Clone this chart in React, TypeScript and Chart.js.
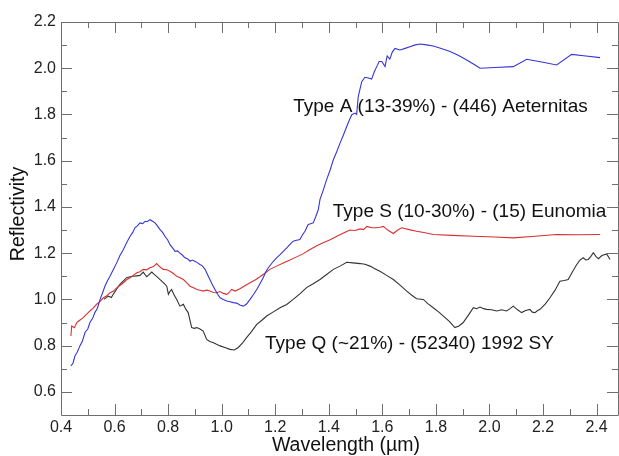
import React, { useEffect, useRef } from "react";
import { Chart, registerables } from "chart.js";

Chart.register(...registerables);

const X_TICKS = [0.4, 0.6, 0.8, 1.0, 1.2, 1.4, 1.6, 1.8, 2.0, 2.2, 2.4];
const Y_TICKS = [0.6, 0.8, 1.0, 1.2, 1.4, 1.6, 1.8, 2.0, 2.2];
const X_MINOR = [0.5, 0.7, 0.9, 1.1, 1.3, 1.5, 1.7, 1.9, 2.1, 2.3];
const Y_MINOR = [0.7, 0.9, 1.1, 1.3, 1.5, 1.7, 1.9, 2.1];

const TYPE_A_X = [0.437, 0.445, 0.452, 0.46, 0.471, 0.48, 0.49, 0.5, 0.508, 0.518, 0.527, 0.536, 0.546, 0.555, 0.564, 0.573, 0.583, 0.595, 0.608, 0.62, 0.633, 0.645, 0.658, 0.668, 0.676, 0.685, 0.695, 0.705, 0.714, 0.722, 0.732, 0.742, 0.751, 0.76, 0.77, 0.78, 0.788, 0.798, 0.807, 0.816, 0.826, 0.835, 0.844, 0.853, 0.863, 0.872, 0.882, 0.89, 0.9, 0.91, 0.919, 0.928, 0.938, 0.947, 0.956, 0.965, 0.975, 0.985, 0.994, 1.006, 1.019, 1.031, 1.043, 1.056, 1.068, 1.081, 1.093, 1.106, 1.118, 1.131, 1.143, 1.155, 1.165, 1.174, 1.183, 1.193, 1.205, 1.218, 1.23, 1.243, 1.255, 1.267, 1.28, 1.292, 1.302, 1.311, 1.323, 1.332, 1.342, 1.352, 1.361, 1.367, 1.38, 1.392, 1.405, 1.417, 1.43, 1.442, 1.455, 1.467, 1.477, 1.486, 1.498, 1.504, 1.51, 1.523, 1.535, 1.548, 1.56, 1.57, 1.579, 1.588, 1.598, 1.61, 1.618, 1.628, 1.637, 1.647, 1.666, 1.685, 1.703, 1.72, 1.74, 1.765, 1.79, 1.82, 1.853, 1.885, 1.915, 1.94, 1.965, 2.02, 2.089, 2.139, 2.2, 2.251, 2.307, 2.36, 2.413];
const TYPE_A_Y = [0.712, 0.725, 0.755, 0.77, 0.8, 0.82, 0.858, 0.872, 0.9, 0.918, 0.944, 0.962, 1.0, 1.028, 1.057, 1.08, 1.1, 1.128, 1.158, 1.19, 1.216, 1.245, 1.273, 1.29, 1.31, 1.318, 1.331, 1.328, 1.338, 1.336, 1.345, 1.338, 1.331, 1.318, 1.302, 1.289, 1.273, 1.258, 1.237, 1.224, 1.208, 1.21, 1.2, 1.192, 1.18, 1.176, 1.165, 1.17, 1.165, 1.158, 1.151, 1.145, 1.13, 1.108, 1.086, 1.064, 1.043, 1.022, 1.007, 1.0, 0.993, 0.99, 0.986, 0.984, 0.976, 0.971, 0.98, 1.0, 1.02, 1.043, 1.068, 1.094, 1.12, 1.137, 1.15, 1.165, 1.18, 1.194, 1.208, 1.223, 1.238, 1.252, 1.256, 1.259, 1.28, 1.295, 1.324, 1.327, 1.331, 1.36, 1.389, 1.432, 1.475, 1.518, 1.56, 1.604, 1.64, 1.676, 1.712, 1.748, 1.776, 1.799, 1.806, 1.8, 1.877, 1.942, 1.961, 1.958, 1.953, 1.985, 2.007, 2.029, 2.029, 2.007, 2.053, 2.039, 2.07, 2.086, 2.079, 2.086, 2.093, 2.1, 2.105, 2.101, 2.096, 2.085, 2.072, 2.055, 2.036, 2.018, 2.0, 2.003, 2.007, 2.039, 2.026, 2.014, 2.06, 2.053, 2.046];

const TYPE_S_X = [0.437, 0.44, 0.45, 0.459, 0.47, 0.483, 0.495, 0.508, 0.52, 0.533, 0.545, 0.558, 0.57, 0.583, 0.595, 0.608, 0.62, 0.633, 0.645, 0.658, 0.67, 0.683, 0.695, 0.707, 0.72, 0.732, 0.745, 0.757, 0.77, 0.782, 0.795, 0.807, 0.82, 0.832, 0.845, 0.857, 0.87, 0.882, 0.895, 0.907, 0.919, 0.931, 0.944, 0.956, 0.969, 0.981, 0.994, 1.006, 1.019, 1.028, 1.037, 1.05, 1.068, 1.085, 1.106, 1.125, 1.143, 1.16, 1.18, 1.205, 1.23, 1.255, 1.28, 1.305, 1.33, 1.355, 1.379, 1.405, 1.43, 1.455, 1.479, 1.498, 1.517, 1.53, 1.542, 1.56, 1.579, 1.592, 1.604, 1.62, 1.641, 1.655, 1.672, 1.7, 1.728, 1.76, 1.79, 1.86, 1.94, 2.02, 2.089, 2.17, 2.251, 2.33, 2.413];
const TYPE_S_Y = [0.842, 0.885, 0.878, 0.9, 0.91, 0.921, 0.935, 0.95, 0.962, 0.979, 0.99, 1.007, 1.015, 1.029, 1.035, 1.05, 1.06, 1.072, 1.085, 1.094, 1.104, 1.115, 1.12, 1.13, 1.128, 1.137, 1.142, 1.155, 1.14, 1.13, 1.128, 1.122, 1.112, 1.1, 1.094, 1.086, 1.072, 1.057, 1.05, 1.043, 1.04, 1.036, 1.04, 1.036, 1.03, 1.029, 1.034, 1.026, 1.022, 1.03, 1.043, 1.036, 1.046, 1.058, 1.072, 1.084, 1.098, 1.112, 1.13, 1.144, 1.158, 1.17, 1.184, 1.198, 1.216, 1.232, 1.245, 1.258, 1.273, 1.287, 1.3, 1.298, 1.305, 1.302, 1.316, 1.31, 1.31, 1.312, 1.316, 1.3, 1.285, 1.298, 1.31, 1.302, 1.295, 1.288, 1.281, 1.277, 1.273, 1.27, 1.266, 1.273, 1.281, 1.28, 1.281];

const TYPE_Q_X = [0.56, 0.577, 0.588, 0.595, 0.608, 0.62, 0.633, 0.645, 0.658, 0.67, 0.683, 0.695, 0.707, 0.72, 0.73, 0.739, 0.748, 0.757, 0.766, 0.776, 0.786, 0.795, 0.801, 0.807, 0.813, 0.822, 0.832, 0.844, 0.857, 0.866, 0.875, 0.888, 0.898, 0.907, 0.919, 0.931, 0.944, 0.956, 0.969, 0.981, 0.994, 1.012, 1.031, 1.047, 1.062, 1.078, 1.093, 1.112, 1.131, 1.15, 1.168, 1.193, 1.218, 1.243, 1.267, 1.292, 1.317, 1.342, 1.367, 1.392, 1.417, 1.442, 1.467, 1.49, 1.517, 1.535, 1.554, 1.572, 1.591, 1.616, 1.641, 1.666, 1.691, 1.71, 1.728, 1.753, 1.77, 1.79, 1.81, 1.828, 1.85, 1.871, 1.886, 1.902, 1.92, 1.94, 1.952, 1.965, 1.978, 1.99, 2.008, 2.027, 2.045, 2.064, 2.077, 2.089, 2.105, 2.12, 2.135, 2.151, 2.16, 2.17, 2.18, 2.189, 2.208, 2.226, 2.245, 2.263, 2.28, 2.294, 2.31, 2.326, 2.338, 2.35, 2.36, 2.369, 2.378, 2.388, 2.398, 2.407, 2.42, 2.438, 2.45];
const TYPE_Q_Y = [1.0, 1.014, 1.008, 1.022, 1.045, 1.065, 1.08, 1.094, 1.098, 1.1, 1.102, 1.104, 1.118, 1.098, 1.108, 1.118, 1.108, 1.1, 1.09, 1.079, 1.068, 1.057, 1.022, 1.035, 1.043, 1.02, 1.0, 0.971, 0.979, 0.958, 0.943, 0.878, 0.875, 0.878, 0.872, 0.863, 0.827, 0.818, 0.813, 0.806, 0.799, 0.792, 0.784, 0.781, 0.792, 0.812, 0.835, 0.862, 0.892, 0.91, 0.928, 0.946, 0.964, 0.978, 1.0, 1.024, 1.051, 1.068, 1.086, 1.108, 1.13, 1.144, 1.161, 1.158, 1.155, 1.152, 1.144, 1.133, 1.122, 1.104, 1.086, 1.062, 1.036, 1.018, 1.003, 1.0, 0.982, 0.964, 0.946, 0.928, 0.905, 0.878, 0.885, 0.9, 0.93, 0.964, 0.96, 0.967, 0.96, 0.957, 0.955, 0.95, 0.955, 0.95, 0.96, 0.971, 0.955, 0.943, 0.952, 0.957, 0.945, 0.943, 0.952, 0.957, 0.98, 1.007, 1.04, 1.079, 1.082, 1.086, 1.12, 1.151, 1.17, 1.18, 1.171, 1.173, 1.185, 1.202, 1.185, 1.176, 1.19, 1.197, 1.173];

const SERIES_NAMES = ["Type A (13-39%) - (446) Aeternitas", "Type S (10-30%) - (15) Eunomia", "Type Q (~21%) - (52340) 1992 SY"];
const SERIES_COLORS = ["#3535d6", "#d83030", "#333333"];
const LABEL_POS = [
  { x: 1.267, y: 1.835 },
  { x: 1.415, y: 1.38 },
  { x: 1.162, y: 0.806 },
];

const zip = (xs: number[], ys: number[]) => xs.map((x, i) => ({ x, y: ys[i] }));

const FONT = "'Liberation Sans', Arial, sans-serif";

const framePlugin = {
  id: "frame",
  afterDraw(chart: any) {
    const { ctx, chartArea: a, scales } = chart;
    const xs = scales.x;
    const ys = scales.y;
    ctx.save();
    ctx.strokeStyle = "#6e6e6e";
    ctx.lineWidth = 1;
    ctx.beginPath();
    ctx.rect(Math.round(a.left) + 0.5, Math.round(a.top) + 0.5, Math.round(a.right - a.left), Math.round(a.bottom - a.top));
    ctx.stroke();
    const tick = (x1: number, y1: number, x2: number, y2: number) => {
      ctx.moveTo(x1, y1);
      ctx.lineTo(x2, y2);
    };
    ctx.beginPath();
    X_TICKS.forEach((v) => {
      const px = Math.round(xs.getPixelForValue(v)) + 0.5;
      tick(px, a.bottom, px, a.bottom - 11);
      tick(px, a.top, px, a.top + 11);
    });
    X_MINOR.forEach((v) => {
      const px = Math.round(xs.getPixelForValue(v)) + 0.5;
      tick(px, a.bottom, px, a.bottom - 6);
      tick(px, a.top, px, a.top + 6);
    });
    Y_TICKS.forEach((v) => {
      const py = Math.round(ys.getPixelForValue(v)) + 0.5;
      tick(a.left, py, a.left + 11, py);
      tick(a.right, py, a.right - 11, py);
    });
    Y_MINOR.forEach((v) => {
      const py = Math.round(ys.getPixelForValue(v)) + 0.5;
      tick(a.left, py, a.left + 6, py);
      tick(a.right, py, a.right - 6, py);
    });
    ctx.stroke();

    ctx.fillStyle = "#111111";
    ctx.font = `19px ${FONT}`;
    ctx.textBaseline = "middle";
    ctx.textAlign = "left";
    SERIES_NAMES.forEach((name, i) => {
      ctx.fillText(name, xs.getPixelForValue(LABEL_POS[i].x), ys.getPixelForValue(LABEL_POS[i].y));
    });

    ctx.font = `19.5px ${FONT}`;
    ctx.textAlign = "center";
    ctx.fillText("Wavelength (\u00b5m)", 346, 446);
    ctx.translate(19, 214);
    ctx.rotate(-Math.PI / 2);
    ctx.fillText("Reflectivity", 0, 0);
    ctx.restore();
  },
};

export default function App() {
  const ref = useRef<HTMLCanvasElement>(null);
  useEffect(() => {
    document.body.style.margin = "0";
    const canvas = ref.current!;
    const datasets = [
      zip(TYPE_A_X, TYPE_A_Y),
      zip(TYPE_S_X, TYPE_S_Y),
      zip(TYPE_Q_X, TYPE_Q_Y),
    ].map((d, i) => ({
      label: SERIES_NAMES[i],
      data: d,
      borderColor: SERIES_COLORS[i],
      borderWidth: 1.1,
      pointRadius: 0,
      tension: 0,
      fill: false,
    }));
    const chart = new Chart(canvas, {
      type: "line",
      data: { datasets },
      options: {
        responsive: false,
        animation: false,
        layout: { padding: { top: 22, right: 1, left: 0, bottom: 0 } },
        plugins: { legend: { display: false }, tooltip: { enabled: false } },
        scales: {
          x: {
            type: "linear",
            min: 0.4,
            max: 2.48,
            grid: { display: false, drawTicks: false },
            border: { display: false },
            afterFit: (s: any) => {
              s.height = 41;
            },
            afterBuildTicks: (s: any) => {
              s.ticks = X_TICKS.map((v) => ({ value: v }));
            },
            ticks: {
              padding: 3,
              color: "#222222",
              font: { family: FONT, size: 16 },
              maxRotation: 0,
              autoSkip: false,
              callback: (v: any) => Number(v).toFixed(1),
            },
          },
          y: {
            type: "linear",
            min: 0.5,
            max: 2.2,
            grid: { display: false, drawTicks: false },
            border: { display: false },
            afterFit: (s: any) => {
              s.width = 61;
            },
            afterBuildTicks: (s: any) => {
              s.ticks = Y_TICKS.map((v) => ({ value: v }));
            },
            ticks: {
              padding: 5,
              color: "#222222",
              font: { family: FONT, size: 16 },
              autoSkip: false,
              callback: (v: any) => Number(v).toFixed(1),
            },
          },
        },
      },
      plugins: [framePlugin],
    } as any);
    return () => chart.destroy();
  }, []);
  return (
    <div style={{ width: 619, height: 456 }}>
      <canvas ref={ref} width={619} height={456} style={{ display: "block" }} />
    </div>
  );
}
